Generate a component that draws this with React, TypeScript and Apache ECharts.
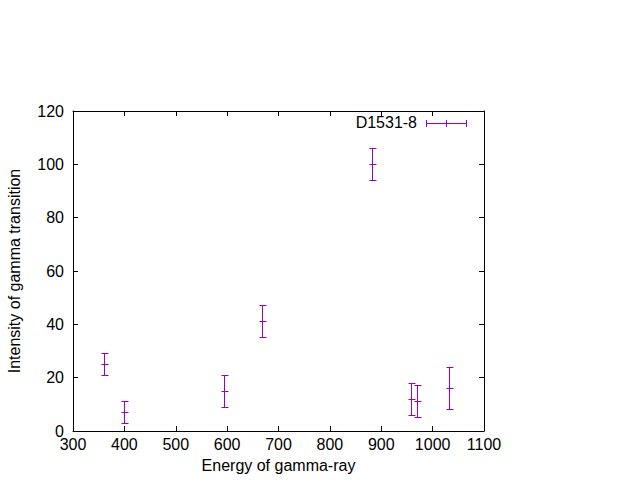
import React, { useEffect, useRef } from "react";
import * as echarts from "echarts";

const energies = [362, 400, 595, 668, 882, 958, 971, 1033];
const intensities = [25, 7, 15, 41, 100, 12, 11, 16];
const errors = [4, 4, 6, 6, 6, 6, 6, 8];
const seriesName = "D1531-8";
const xTitle = "Energy of gamma-ray";
const yTitle = "Intensity of gamma transition";

const COLOR = "#9400d3";
const FONT = "'Liberation Sans', Arial, sans-serif";

const crisp = (v: number) => Math.round(v - 0.5) + 0.5;

export default function App() {
  const ref = useRef<HTMLDivElement>(null);
  useEffect(() => {
    if (!ref.current) return;
    const chart = echarts.init(ref.current, null, { renderer: "svg" });
    const data = energies.map((e, i) => [e, intensities[i], errors[i]]);
    const common = {
      type: "value" as const,
      axisLine: { show: true, onZero: false, lineStyle: { color: "#000", width: 1 } },
      axisTick: { show: true, inside: true, length: 5, lineStyle: { color: "#000" } },
      splitLine: { show: false },
    };
    const plain = (v: number) => String(v);
    chart.setOption({
      animation: false,
      textStyle: { fontFamily: FONT },
      grid: { left: 73, right: 156, top: 111, bottom: 49, containLabel: false, outerBoundsMode: "none" },
      xAxis: [
        {
          ...common,
          position: "bottom",
          min: 300,
          max: 1100,
          interval: 100,
          axisLabel: { color: "#000", fontSize: 16, margin: 5, fontFamily: FONT, formatter: plain },
          name: xTitle,
          nameLocation: "middle",
          nameGap: 26,
          nameTextStyle: { color: "#000", fontSize: 16, fontFamily: FONT },
        },
        {
          ...common,
          position: "top",
          min: 300,
          max: 1100,
          interval: 100,
          axisLabel: { show: false },
        },
      ],
      yAxis: [
        {
          ...common,
          position: "left",
          min: 0,
          max: 120,
          interval: 20,
          axisLabel: { color: "#000", fontSize: 16, margin: 9, fontFamily: FONT, formatter: plain },
          name: yTitle,
          nameLocation: "middle",
          nameGap: 51,
          nameTextStyle: { color: "#000", fontSize: 16, fontFamily: FONT },
        },
        {
          ...common,
          position: "right",
          min: 0,
          max: 120,
          interval: 20,
          axisLabel: { show: false },
        },
      ],
      series: [
        {
          type: "custom",
          name: seriesName,
          xAxisIndex: 0,
          yAxisIndex: 0,
          silent: true,
          emphasis: { disabled: true },
          itemStyle: { color: COLOR, borderColor: COLOR },
          data,
          renderItem: (params: any, api: any) => {
            const x = api.value(0);
            const y = api.value(1);
            const err = api.value(2);
            const c = api.coord([x, y]);
            const top = api.coord([x, y + err]);
            const bot = api.coord([x, y - err]);
            const w = 3;
            const cx = crisp(c[0]);
            const cy = crisp(c[1]);
            const ty = crisp(top[1]);
            const by = crisp(bot[1]);
            const st = { stroke: COLOR, lineWidth: 1, fill: "none" };
            return {
              type: "group",
              children: [
                { type: "polyline", shape: { points: [[cx, ty], [cx, by]] }, style: st },
                { type: "polyline", shape: { points: [[cx - w, ty], [cx + w + 1, ty]] }, style: st },
                { type: "polyline", shape: { points: [[cx - w, by], [cx + w + 1, by]] }, style: st },
                { type: "polyline", shape: { points: [[cx - w, cy], [cx + w + 1, cy]] }, style: st },
              ],
            };
          },
        },
      ],
      graphic: [
        {
          type: "text",
          right: 640 - 417,
          top: 114,
          style: { text: seriesName, fill: "#000", font: `16px ${FONT}` },
        },
        { type: "line", shape: { x1: 426, y1: 123.5, x2: 467, y2: 123.5 }, style: { stroke: COLOR, lineWidth: 1 } },
        { type: "line", shape: { x1: 426.5, y1: 120, x2: 426.5, y2: 127 }, style: { stroke: COLOR, lineWidth: 1 } },
        { type: "line", shape: { x1: 466.5, y1: 120, x2: 466.5, y2: 127 }, style: { stroke: COLOR, lineWidth: 1 } },
        { type: "line", shape: { x1: 446.5, y1: 120, x2: 446.5, y2: 127 }, style: { stroke: COLOR, lineWidth: 1 } },
      ],
    });
    return () => chart.dispose();
  }, []);
  return (
    <div
      ref={ref}
      style={{ position: "fixed", left: 0, top: 0, width: 640, height: 480, background: "#fff" }}
    />
  );
}
